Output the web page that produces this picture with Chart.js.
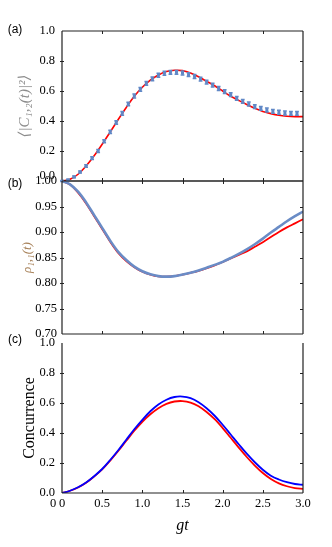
<!DOCTYPE html>
<html><head><meta charset="utf-8">
<script src="https://cdn.jsdelivr.net/npm/chart.js@4.4.1/dist/chart.umd.min.js"></script>
<style>
html,body{margin:0;padding:0;background:#fff;}
#wrap{position:relative;width:332px;height:547px;background:#fff;}
canvas{position:absolute;left:0;top:0;}
</style></head><body>
<div id="wrap">
<canvas id="ca" width="332" height="547"></canvas>
<canvas id="cb" width="332" height="547"></canvas>
<canvas id="cc" width="332" height="547"></canvas>
</div>
<script>
// ---------- data ----------
const tCurve = [0,0.1,0.2,0.3,0.4,0.5,0.6,0.7,0.8,0.9,1.0,1.1,1.2,1.3,1.4,1.5,1.6,1.7,1.8,1.9,2.0,2.1,2.2,2.3,2.4,2.5,2.6,2.7,2.8,2.9,3.0];
const tPoints = [0,0.075,0.15,0.225,0.3,0.375,0.45,0.525,0.6,0.675,0.75,0.825,0.9,0.975,1.05,1.125,1.2,1.275,1.35,1.425,1.5,1.575,1.65,1.725,1.8,1.875,1.95,2.025,2.1,2.175,2.25,2.325,2.4,2.475,2.55,2.625,2.7,2.775,2.85,2.925];

// panel (a)
const aTheory = [0,0.012,0.045,0.10,0.168,0.245,0.327,0.41,0.49,0.565,0.625,0.672,0.707,0.73,0.738,0.736,0.72,0.695,0.665,0.635,0.60,0.565,0.537,0.51,0.485,0.464,0.449,0.438,0.432,0.429,0.429];
const aSim = [0,0.007,0.027,0.06,0.10,0.153,0.20,0.265,0.327,0.39,0.451,0.513,0.567,0.611,0.651,0.681,0.705,0.718,0.724,0.724,0.72,0.709,0.697,0.679,0.659,0.639,0.617,0.596,0.576,0.551,0.531,0.513,0.496,0.484,0.473,0.464,0.458,0.453,0.451,0.451];
const aSimErr = [0.004,0.005,0.006,0.007,0.008,0.009,0.01,0.01,0.011,0.011,0.012,0.012,0.013,0.013,0.013,0.013,0.013,0.013,0.013,0.013,0.013,0.013,0.013,0.013,0.013,0.013,0.013,0.013,0.013,0.013,0.013,0.013,0.013,0.013,0.013,0.013,0.013,0.013,0.013,0.013];

// panel (b)
const bRed  = [1.0,0.993,0.977,0.956,0.931,0.906,0.881,0.859,0.843,0.831,0.822,0.8165,0.813,0.8125,0.8135,0.8165,0.82,0.824,0.829,0.8345,0.841,0.848,0.855,0.862,0.871,0.88,0.89,0.9,0.909,0.917,0.925];
const bBlue = [1.0,0.9935,0.979,0.958,0.933,0.908,0.883,0.861,0.845,0.832,0.823,0.817,0.8135,0.8125,0.8135,0.8165,0.82,0.8245,0.83,0.8355,0.8415,0.849,0.857,0.866,0.876,0.887,0.899,0.91,0.921,0.931,0.94];

// panel (c)
const cRed  = [0,0.015,0.037,0.068,0.11,0.157,0.216,0.28,0.348,0.415,0.475,0.525,0.565,0.594,0.61,0.613,0.603,0.578,0.54,0.492,0.433,0.368,0.303,0.24,0.183,0.133,0.093,0.064,0.045,0.033,0.028];
const cBlue = [0,0.015,0.038,0.07,0.112,0.16,0.22,0.285,0.355,0.425,0.488,0.545,0.59,0.622,0.64,0.643,0.632,0.605,0.565,0.515,0.455,0.39,0.325,0.262,0.205,0.155,0.115,0.09,0.072,0.06,0.055];

// tick / axis labels
const xTickStep = 0.5;
const yTitleA = '⟨|C₁,₂(t)|²⟩';
const yTitleB = 'ρ₁,₁(t)';
const yTitleC = 'Concurrence';
const xTitle = 'gt';

// ---------- helpers ----------
const pts = (xs, ys) => xs.map((x, i) => ({x: x, y: ys[i]}));
const SERIF = "'Liberation Serif', 'DejaVu Serif', serif";
const SANS = "'Liberation Sans', 'DejaVu Sans', sans-serif";
const TICK_FONT = {family: SERIF, size: 12.5};

const framePlugin = {
  id: 'frame',
  afterDatasetsDraw(chart, args, o) {
    const {ctx, chartArea: a} = chart;
    const x = chart.scales.x, y = chart.scales.y;
    ctx.save();
    ctx.strokeStyle = '#222';
    ctx.lineWidth = 1.2;
    ctx.beginPath();
    if (o.left)   { ctx.moveTo(a.left, a.top); ctx.lineTo(a.left, a.bottom); }
    if (o.right)  { ctx.moveTo(a.right, a.top); ctx.lineTo(a.right, a.bottom); }
    if (o.top)    { ctx.moveTo(a.left, a.top); ctx.lineTo(a.right, a.top); }
    if (o.bottom) { ctx.moveTo(a.left, a.bottom); ctx.lineTo(a.right, a.bottom); }
    ctx.stroke();
    ctx.lineWidth = 1;
    ctx.beginPath();
    x.ticks.forEach(t => {
      if (t.value <= x.min + 1e-9 || t.value >= x.max - 1e-9) return;
      const px = Math.round(x.getPixelForValue(t.value)) + 0.5;
      if (o.bottom) { ctx.moveTo(px, a.bottom); ctx.lineTo(px, a.bottom - 3); }
      if (o.top)    { ctx.moveTo(px, a.top); ctx.lineTo(px, a.top + 3); }
    });
    y.ticks.forEach(t => {
      if (t.value <= y.min + 1e-9 || t.value >= y.max - 1e-9) return;
      const py = Math.round(y.getPixelForValue(t.value)) + 0.5;
      if (o.right) { ctx.moveTo(a.right, py); ctx.lineTo(a.right - 3, py); }
      if (o.left)  { ctx.moveTo(a.left - 2, py); ctx.lineTo(a.left + 2, py); }
    });
    ctx.stroke();
    ctx.restore();
  }
};

const errorBarPlugin = {
  id: 'errbars',
  afterDatasetsDraw(chart) {
    const {ctx} = chart;
    const x = chart.scales.x, y = chart.scales.y;
    chart.data.datasets.forEach(ds => {
      if (!ds.errors) return;
      ctx.save();
      ctx.strokeStyle = ds.backgroundColor;
      ctx.lineWidth = 1.5;
      ds.data.forEach((p, i) => {
        const e = ds.errors[i];
        const px = x.getPixelForValue(p.x);
        const y1 = y.getPixelForValue(p.y + e), y2 = y.getPixelForValue(p.y - e);
        ctx.beginPath();
        ctx.moveTo(px, y1); ctx.lineTo(px, y2);
        ctx.moveTo(px - 1.9, y1); ctx.lineTo(px + 1.9, y1);
        ctx.moveTo(px - 1.9, y2); ctx.lineTo(px + 1.9, y2);
        ctx.stroke();
      });
      ctx.restore();
    });
  }
};

const textPlugin = {
  id: 'texts',
  afterDraw(chart, args, o) {
    const {ctx} = chart;
    (o.items || []).forEach(it => {
      ctx.save();
      ctx.font = it.font;
      ctx.fillStyle = it.color || '#000';
      ctx.textAlign = it.align || 'center';
      ctx.textBaseline = 'middle';
      ctx.fillText(it.text, it.x, it.y);
      ctx.restore();
    });
  }
};

function xScale(showLabels, height) {
  return {
    type: 'linear', min: 0, max: 3, display: showLabels,
    grid: {display: false, drawTicks: false},
    border: {display: false},
    ticks: {
      stepSize: xTickStep, padding: 3, color: '#000',
      font: TICK_FONT,
      maxRotation: 0, autoSkip: false,
      callback: v => (v === 0 ? '0' : v.toFixed(1))
    },
    title: {display: showLabels, text: xTitle, color: '#000',
      font: {family: SERIF, size: 16, style: 'italic'}, padding: {top: 0, bottom: 12}},
    afterFit: s => { s.width = s.width; s.height = height; }
  };
}

function yScale(min, max, step, dec, pad, title, titleFont, titleColor, titlePad, hideZero) {
  return {
    type: 'linear', min: min, max: max,
    grid: {display: false, drawTicks: false},
    border: {display: false},
    ticks: {
      stepSize: step, padding: pad, color: '#000',
      font: TICK_FONT,
      callback: v => (hideZero && v === 0 ? '' : Number(v).toFixed(dec))
    },
    title: {display: true, text: title, color: titleColor, font: titleFont, padding: {top: titlePad, bottom: 0}},
    afterFit: s => { s.width = 62; }
  };
}

const common = {
  responsive: false, animation: false, devicePixelRatio: 1,
  plugins: {legend: {display: false}, tooltip: {enabled: false}}
};

// ---------- panel (a) ----------
new Chart(document.getElementById('ca'), {
  type: 'scatter',
  data: {datasets: [
    {type: 'scatter', data: pts(tPoints, aSim), errors: aSimErr,
     backgroundColor: '#6088c6', borderColor: '#6088c6',
     pointStyle: 'rect', pointRadius: 2.1, borderWidth: 0, order: 1},
    {type: 'line', data: pts(tCurve, aTheory), borderColor: '#ff0000', borderWidth: 1.6,
     pointRadius: 0, tension: 0.35, fill: false, order: 2}
  ]},
  options: Object.assign({}, common, {
    layout: {padding: {top: 31, left: 0, right: 29, bottom: 366}},
    scales: {
      x: xScale(false, 0),
      y: yScale(0, 1, 0.2, 1, 7, yTitleA, {family: SERIF, size: 15, style: 'italic'}, '#8c8c8c', 16, true)
    },
    plugins: Object.assign({}, common.plugins, {
      frame: {left: true, right: true, top: true, bottom: true},
      texts: {items: [
        {text: '(a)', x: 15, y: 30, font: "12px " + SANS},
        {text: '0.0', x: 55, y: 176, align: 'right', font: "12.5px " + SERIF}
      ]}
    })
  }),
  plugins: [framePlugin, errorBarPlugin, textPlugin]
});

// ---------- panel (b) ----------
new Chart(document.getElementById('cb'), {
  type: 'line',
  data: {datasets: [
    {data: pts(tCurve, bBlue), borderColor: '#6a8cc6', borderWidth: 2.6,
     pointRadius: 0, tension: 0.35, fill: false, order: 1},
    {data: pts(tCurve, bRed), borderColor: '#ff0000', borderWidth: 1.8,
     pointRadius: 0, tension: 0.35, fill: false, order: 2}
  ]},
  options: Object.assign({}, common, {
    layout: {padding: {top: 181, left: 0, right: 29, bottom: 213}},
    scales: {
      x: xScale(false, 0),
      y: yScale(0.70, 1.00, 0.05, 2, 5, yTitleB, {family: SERIF, size: 13, style: 'italic'}, '#a8825a', 20, false)
    },
    plugins: Object.assign({}, common.plugins, {
      frame: {left: true, right: true, top: true, bottom: true},
      texts: {items: [{text: '(b)', x: 15, y: 184, font: "12px " + SANS}]}
    })
  }),
  plugins: [framePlugin, textPlugin]
});

// ---------- panel (c) ----------
new Chart(document.getElementById('cc'), {
  type: 'line',
  data: {datasets: [
    {data: pts(tCurve, cBlue), borderColor: '#0000ff', borderWidth: 1.8,
     pointRadius: 0, tension: 0.35, fill: false, order: 1},
    {data: pts(tCurve, cRed), borderColor: '#ff0000', borderWidth: 1.8,
     pointRadius: 0, tension: 0.35, fill: false, order: 2}
  ]},
  options: Object.assign({}, common, {
    layout: {padding: {top: 343, left: 0, right: 29, bottom: 0}},
    scales: {
      x: xScale(true, 54),
      y: yScale(0, 1, 0.2, 1, 7, yTitleC, {family: SERIF, size: 16}, '#000', 20, false)
    },
    plugins: Object.assign({}, common.plugins, {
      frame: {left: true, right: true, top: false, bottom: true},
      texts: {items: [
        {text: '(c)', x: 15, y: 340, font: "12px " + SANS},
        {text: '0', x: 53, y: 503.5, font: "12.5px " + SERIF}
      ]}
    })
  }),
  plugins: [framePlugin, textPlugin]
});
</script>
</body></html>
